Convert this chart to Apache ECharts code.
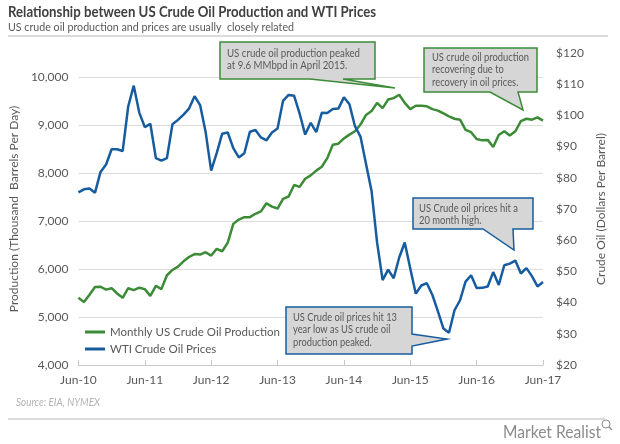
<!DOCTYPE html>
<html>
<head>
<meta charset="utf-8">
<script src="https://cdn.jsdelivr.net/npm/echarts@6/dist/echarts.min.js"></script>
<style>
html,body{margin:0;padding:0;background:#fff;}
#chart{width:620px;height:444px;}
</style>
</head>
<body>
<div id="chart"></div>
<script>
var categories = ['Jun-10','Jul-10','Aug-10','Sep-10','Oct-10','Nov-10','Dec-10',
'Jan-11','Feb-11','Mar-11','Apr-11','May-11','Jun-11','Jul-11','Aug-11','Sep-11','Oct-11','Nov-11','Dec-11',
'Jan-12','Feb-12','Mar-12','Apr-12','May-12','Jun-12','Jul-12','Aug-12','Sep-12','Oct-12','Nov-12','Dec-12',
'Jan-13','Feb-13','Mar-13','Apr-13','May-13','Jun-13','Jul-13','Aug-13','Sep-13','Oct-13','Nov-13','Dec-13',
'Jan-14','Feb-14','Mar-14','Apr-14','May-14','Jun-14','Jul-14','Aug-14','Sep-14','Oct-14','Nov-14','Dec-14',
'Jan-15','Feb-15','Mar-15','Apr-15','May-15','Jun-15','Jul-15','Aug-15','Sep-15','Oct-15','Nov-15','Dec-15',
'Jan-16','Feb-16','Mar-16','Apr-16','May-16','Jun-16','Jul-16','Aug-16','Sep-16','Oct-16','Nov-16','Dec-16',
'Jan-17','Feb-17','Mar-17','Apr-17','May-17','Jun-17'];

var production = [5400,5310,5465,5625,5630,5570,5600,
5490,5400,5600,5560,5610,5580,5440,5650,5580,5870,5980,6050,
6160,6250,6310,6300,6350,6280,6420,6370,6550,6940,7030,7080,
7080,7150,7200,7370,7300,7260,7460,7510,7750,7710,7880,7950,
8050,8130,8310,8590,8610,8720,8800,8870,9010,9210,9290,9460,
9350,9530,9560,9630,9460,9330,9400,9400,9390,9330,9300,9240,
9180,9130,9110,8900,8850,8710,8680,8690,8540,8790,8870,8780,
8870,9080,9130,9110,9160,9090];

var wti = [75.34,76.32,76.60,75.24,81.89,84.25,89.15,
89.17,88.58,102.86,109.53,100.90,96.26,97.30,86.33,85.52,86.32,97.16,98.56,
100.27,102.20,106.16,103.32,94.66,82.30,87.90,94.13,94.51,89.49,86.53,87.86,
94.76,95.31,92.94,92.02,94.51,95.77,104.67,106.57,106.29,100.54,93.86,97.63,
94.62,100.82,100.80,102.07,102.18,105.79,103.59,96.54,93.21,84.40,75.79,59.29,
47.22,50.58,47.82,54.45,59.27,50.90,42.87,45.48,46.22,42.44,37.19,
31.68,30.32,37.55,40.75,46.71,48.76,44.65,44.72,45.18,49.78,45.66,51.97,
52.50,53.47,49.33,51.06,48.48,45.18,46.63];

var seriesNames = ['Monthly US Crude Oil Production','WTI Crude Oil Prices'];
var leftAxisName = 'Production (Thousand  Barrels Per Day)';
var rightAxisName = 'Crude Oil (Dollars Per Barrel)';
var titleText = 'Relationship between US Crude Oil Production and WTI Prices';
var subtitleText = 'US crude oil production and prices are usually  closely related';

var FONT = "Lato,'Open Sans',sans-serif";
var GREEN = '#3b8b37', BLUE = '#175c9e', TXT = '#595959';
var FILL = '#d6d6d6';

var measureCtx = document.createElement('canvas').getContext('2d');
function fitScale(text, font, target) {
  measureCtx.font = font;
  var lines = text.split('\n'), w = 0;
  for (var i = 0; i < lines.length; i++) w = Math.max(w, measureCtx.measureText(lines[i]).width);
  return w > 0 ? target / w : 1;
}

function scaledText(x, y, text, font, fill, target, extra) {
  var st = {text:text, fill:fill, font:font, verticalAlign:'top'};
  if (extra) for (var k in extra) st[k] = extra[k];
  return {type:'text', x:x, y:y, scaleX:fitScale(text, font, target), style:st, z:101};
}

function callout(points, color, tx, ty, text, target) {
  return [
    {type:'polygon', shape:{points:points}, style:{fill:FILL, stroke:color, lineWidth:1.5}, z:100},
    scaledText(tx, ty, text, '11px '+FONT, TXT, target, {lineHeight:12.5})
  ];
}

var graphics = [
  scaledText(8, 5, titleText, 'bold 15px '+FONT, '#404040', 368),
  scaledText(8, 21, subtitleText, '12px '+FONT, TXT, 286),
  {type:'line', shape:{x1:8,y1:36,x2:608,y2:36}, style:{stroke:'#cfcfcf', lineWidth:1.5}},
  {type:'line', shape:{x1:8,y1:419,x2:605,y2:419}, style:{stroke:'#cfcfcf', lineWidth:1.5}},
  scaledText(16, 397, 'Source: EIA, NYMEX', 'italic 11px '+FONT, '#b3b3b3', 84),
  scaledText(503, 423, 'Market Realist', '18px '+FONT, '#8c8c8c', 98),
  {type:'circle', shape:{cx:606, cy:424, r:4}, style:{fill:'none', stroke:'#8c8c8c', lineWidth:1}},
  {type:'line', shape:{x1:609,y1:427,x2:612,y2:430}, style:{stroke:'#8c8c8c', lineWidth:1.2}}
];
graphics = graphics
  .concat(callout([[220,42],[375,42],[375,79],[343,79],[395,88],[310,79],[220,79]], GREEN, 227, 47,
    'US crude oil production peaked\nat 9.6 MMbpd in April 2015.', 133))
  .concat(callout([[424,48],[537,48],[537,92],[518,92],[523,110],[490,92],[424,92]], GREEN, 432, 51,
    'US crude oil production\nrecovering due to\nrecovery in oil prices.', 97))
  .concat(callout([[286,307],[412,307],[412,334],[447,339],[412,346],[412,354],[286,354]], BLUE, 293, 311,
    'US Crude oil prices hit 13\nyear low as US crude oil\nproduction peaked.', 104))
  .concat(callout([[413,198],[533,198],[533,229],[513,229],[514,250],[483,229],[413,229]], BLUE, 419, 202,
    'US Crude oil prices hit a\n20 month high.', 99));

var chart = echarts.init(document.getElementById('chart'), null, {renderer:'canvas'});
chart.setOption({
  animation:false,
  textStyle:{fontFamily:FONT},
  grid:{left:67, right:77, top:53, bottom:79, containLabel:false},
  legend:{
    data:seriesNames, orient:'vertical', left:80, top:321, icon:'rect',
    itemWidth:20, itemHeight:3, itemGap:5,
    textStyle:{fontSize:11.5, color:TXT, fontFamily:FONT}
  },
  xAxis:{
    type:'category', data:categories, boundaryGap:false,
    axisLine:{lineStyle:{color:'#c8c8c8', width:1}},
    axisTick:{show:true, interval:11, inside:true, length:5, lineStyle:{color:'#c8c8c8'}},
    axisLabel:{interval:11, color:TXT, fontSize:12, margin:9, fontFamily:FONT},
    splitLine:{show:false}
  },
  yAxis:[
    {
      type:'value', min:4000, max:10500, interval:1000, position:'left',
      axisLine:{show:false}, axisTick:{show:false},
      axisLabel:{color:TXT, fontSize:12, margin:10, showMaxLabel:false, fontFamily:FONT,
        formatter:function(v){return v.toLocaleString('en-US');}},
      splitLine:{show:true, showMaxLine:false, lineStyle:{color:'#dcdcdc', width:1}},
      name:leftAxisName, nameLocation:'middle', nameGap:45, nameRotate:90,
      nameTextStyle:{color:TXT, fontSize:12, fontFamily:FONT}
    },
    {
      type:'value', min:20, max:120, interval:10, position:'right',
      axisLine:{show:false}, axisTick:{show:false},
      axisLabel:{color:TXT, fontSize:12, margin:13, fontFamily:FONT, formatter:'${value}'},
      splitLine:{show:false},
      name:rightAxisName, nameLocation:'middle', nameGap:45, nameRotate:90,
      nameTextStyle:{color:TXT, fontSize:12, fontFamily:FONT}
    }
  ],
  series:[
    {name:seriesNames[0], type:'line', yAxisIndex:0, data:production, symbol:'none',
     lineStyle:{color:GREEN, width:2.5}, itemStyle:{color:GREEN}},
    {name:seriesNames[1], type:'line', yAxisIndex:1, data:wti, symbol:'none',
     lineStyle:{color:BLUE, width:2.5}, itemStyle:{color:BLUE}}
  ],
  graphic:graphics
});
</script>
</body>
</html>
